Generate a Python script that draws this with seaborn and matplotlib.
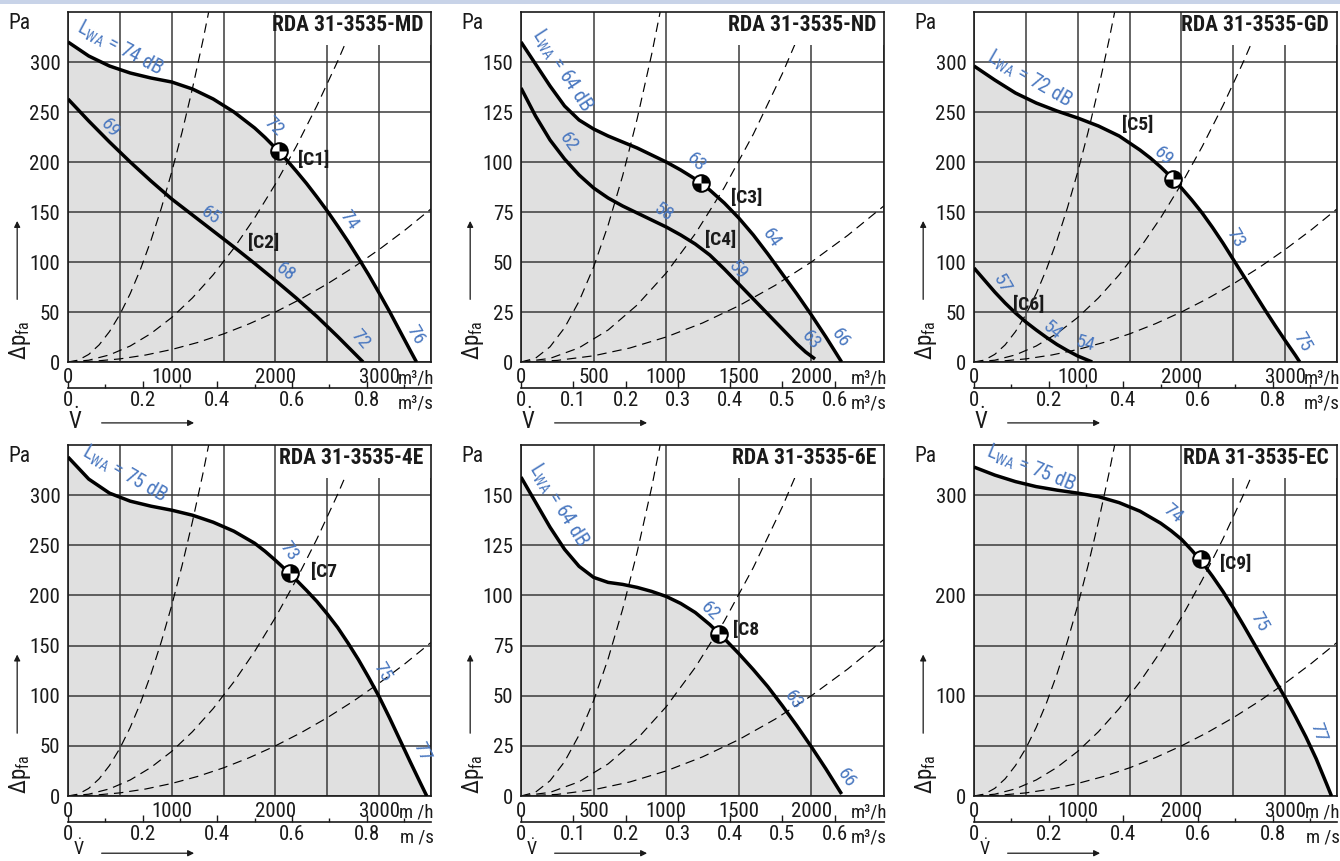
import numpy as np
import matplotlib
matplotlib.use("Agg")
import matplotlib.pyplot as plt
import seaborn as sns
from matplotlib.path import Path
from matplotlib.patches import Rectangle
from matplotlib import font_manager

# system curves (dashed), m3/h -> Pa, shared by all six charts
sys_a_flow = [0, 100, 200, 300, 400, 500, 600, 700, 800, 900, 1000, 1100, 1200, 1300, 1400]
sys_a_pa = [0, 1.9, 7.6, 17.1, 30.4, 47.5, 68.4, 93.1, 121.6, 153.9, 190, 229.9, 273.6, 321.1, 372.4]
sys_b_flow = [0, 200, 400, 600, 800, 1000, 1200, 1400, 1600, 1800, 2000, 2200, 2400, 2600, 2800]
sys_b_pa = [0, 1.8, 7.1, 16.0, 28.5, 44.5, 64.1, 87.2, 113.9, 144.2, 178.0, 215.4, 256.3, 300.8, 348.9]
sys_c_flow = [0, 250, 500, 750, 1000, 1250, 1500, 1750, 2000, 2250, 2500, 2750, 3000, 3250, 3500]
sys_c_pa = [0, 0.8, 3.1, 7.0, 12.5, 19.5, 28.1, 38.3, 50.0, 63.3, 78.1, 94.5, 112.5, 132.0, 153.1]

# RDA 31-3535-MD
md_max_flow = [0, 200, 400, 600, 800, 1000, 1200, 1400, 1600, 1800, 1900, 2000, 2100, 2200, 2300,
               2400, 2500, 2600, 2700, 2800, 2900, 3000, 3100, 3200, 3300, 3360]
md_max_pa = [320, 306, 296, 289, 284, 280, 273, 263, 250, 234, 224.5, 214, 203, 191, 178.5,
             165, 151, 136, 120.5, 104, 87, 69, 50.5, 31, 11.5, 0]
md_low_flow = [0, 200, 400, 600, 800, 1000, 1200, 1400, 1600, 1800, 2000, 2200, 2400, 2600, 2845]
md_low_pa = [263, 241, 220, 200, 181, 163, 147, 131, 115, 98.5, 81.5, 64, 45.5, 25.5, 0]
md_op_flow = [2030]
md_op_pa = [211]
md_lwa = 74
md_db = [72, 74, 76, 69, 65, 68, 72]
md_tags = ["[C1]", "[C2]"]

# RDA 31-3535-ND
nd_max_flow = [0, 100, 200, 300, 400, 500, 600, 700, 800, 900, 1000, 1100, 1200, 1300, 1400,
               1500, 1600, 1700, 1800, 1900, 2000, 2100, 2208]
nd_max_pa = [160, 149, 138, 128, 121, 116.5, 113, 110, 107, 103.5, 100, 96, 91.5, 86, 79.5,
             72, 63.5, 54, 44, 34, 23.5, 12.5, 0]
nd_low_flow = [0, 100, 200, 300, 400, 500, 600, 700, 800, 900, 1000, 1100, 1200, 1300, 1400,
               1500, 1600, 1700, 1800, 1900, 1960, 2025]
nd_low_pa = [137, 123, 111, 101.5, 93.5, 87, 82, 78, 74.5, 71, 67.5, 63.5, 59, 53.5, 46.5,
             39, 31.5, 24, 16.5, 9, 5, 1.5]
nd_op_flow = [1238]
nd_op_pa = [89.6]
nd_lwa = 64
nd_db = [63, 64, 66, 62, 58, 59, 63]
nd_tags = ["[C3]", "[C4]"]

# RDA 31-3535-GD
gd_max_flow = [0, 200, 400, 600, 800, 1000, 1200, 1400, 1600, 1700, 1800, 1900, 2000, 2100, 2200,
               2300, 2400, 2500, 2600, 2700, 2800, 2900, 3000, 3100, 3141]
gd_max_pa = [296, 282, 269, 259, 251, 244, 236, 226, 212, 204, 195, 185, 174, 162, 149,
             134.5, 119, 102.5, 86, 69.5, 53, 37, 21.5, 6.5, 0]
gd_low_flow = [0, 100, 200, 300, 400, 500, 600, 700, 800, 900, 1000, 1140]
gd_low_pa = [94, 82, 70, 59, 49, 40, 32, 24.5, 17.5, 11.5, 6, 0]
gd_op_flow = [1920]
gd_op_pa = [183]
gd_lwa = 72
gd_db = [69, 73, 75, 57, 54, 54]
gd_tags = ["[C5]", "[C6]"]

# RDA 31-3535-4E
e4_max_flow = [0, 200, 400, 600, 800, 1000, 1200, 1400, 1600, 1800, 1900, 2000, 2100, 2200, 2300,
               2400, 2500, 2600, 2700, 2800, 2900, 3000, 3100, 3200, 3300, 3400, 3459]
e4_max_pa = [338, 316, 302, 294, 289, 285, 280, 273, 264, 252, 244, 235, 225.5, 215.5, 205,
             194, 181.5, 168, 152.5, 136, 118, 99, 78, 56, 34, 12.5, 0]
e4_op_flow = [2139]
e4_op_pa = [222]
e4_lwa = 75
e4_db = [73, 75, 77]
e4_tags = ["[C7"]

# RDA 31-3535-6E
e6_max_flow = [0, 100, 200, 300, 400, 500, 600, 700, 800, 900, 1000, 1100, 1200, 1300, 1400,
               1500, 1600, 1700, 1800, 1900, 2000, 2100, 2208]
e6_max_pa = [159, 146.5, 134, 123, 114.5, 109, 106.5, 105.5, 104, 102, 99.5, 96, 91.5, 85.5, 78.5,
             71, 63, 54.5, 45, 35, 24.5, 13.5, 1]
e6_op_flow = [1365]
e6_op_pa = [81]
e6_lwa = 64
e6_db = [62, 63, 66]
e6_tags = ["[C8"]

# RDA 31-3535-EC
ec_max_flow = [0, 200, 400, 600, 800, 1000, 1200, 1400, 1600, 1800, 1900, 2000, 2100, 2200, 2300,
               2400, 2500, 2600, 2700, 2800, 2900, 3000, 3100, 3200, 3300, 3400, 3447]
ec_max_pa = [328, 320, 313.5, 308.5, 305, 302, 298.5, 292.5, 284, 272, 264.5, 256, 245, 233, 219,
             204, 187.5, 170, 152, 134, 116, 98, 79, 59, 37, 12, 0]
ec_op_flow = [2186]
ec_op_pa = [236]
ec_lwa = 75
ec_db = [74, 75, 77]
ec_tags = ["[C9]"]

sns.set_theme(style="white")
names = {f.name for f in font_manager.fontManager.ttflist}
base = next((f for f in ["Liberation Sans Narrow", "Roboto Condensed", "Liberation Sans"] if f in names), "DejaVu Sans")
plt.rcParams["font.family"] = [base, "DejaVu Sans"]
plt.rcParams["mathtext.default"] = "regular"

BLUE = "#4a78c0"
INK = "#1a1a1a"
FS = 15

wide = dict(xmax=3500, ymax=350, ystep=50, xlab=1000,
            sec_major=[0, 0.2, 0.4, 0.6, 0.8], sec_minor=[0.1, 0.3, 0.5, 0.7, 0.9])
narrow = dict(xmax=2500, ymax=175, ystep=25, xlab=500,
              sec_major=[0, 0.1, 0.2, 0.3, 0.4, 0.5, 0.6], sec_minor=[])

panels = [
    dict(wide, title="RDA 31-3535-MD", units=("m³/h", "m³/s"),
         curves=[(md_max_flow, md_max_pa), (md_low_flow, md_low_pa)], op=(md_op_flow, md_op_pa),
         lwa=(md_lwa, 500, 314, -28),
         db=list(zip(md_db, [(1980, 236, -45), (2703, 142, -55), (3349, 27, -60), (405, 234, -50),
                             (1374, 147, -35), (2095, 90, -38), (2813, 23, -50)])),
         tags=list(zip(md_tags, [(2370, 202), (1889, 119)]))),
    dict(narrow, title="RDA 31-3535-ND", units=("m³/h", "m³/s"),
         curves=[(nd_max_flow, nd_max_pa), (nd_low_flow, nd_low_pa)], op=(nd_op_flow, nd_op_pa),
         lwa=(nd_lwa, 285, 146, -57),
         db=list(zip(nd_db, [(1204, 100, -45), (1722, 62, -55), (2197, 12, -55), (323, 110, -55),
                             (978, 75, -35), (1495, 46, -50), (1994, 11, -50)])),
         tags=list(zip(nd_tags, [(1552, 82), (1372, 61)]))),
    dict(wide, title="RDA 31-3535-GD", units=("m³/h", "m³/s"),
         curves=[(gd_max_flow, gd_max_pa), (gd_low_flow, gd_low_pa)], op=(gd_op_flow, gd_op_pa),
         lwa=(gd_lwa, 535, 283, -30),
         db=list(zip(gd_db, [(1822, 206, -45), (2516, 124, -60), (3170, 20, -60), (272, 78, -60),
                             (753, 32, -40), (1073, 18, -15)])),
         tags=list(zip(gd_tags, [(1583, 237), (523, 57)]))),
    dict(wide, title="RDA 31-3535-4E", units=("m /h", "m /s"),
         curves=[(e4_max_flow, e4_max_pa)], op=(e4_op_flow, e4_op_pa),
         lwa=(e4_lwa, 545, 321, -30),
         db=list(zip(e4_db, [(2133, 244, -55), (3028, 124, -60), (3412, 44, -65)])),
         tags=list(zip(e4_tags, [(2465, 223)]))),
    dict(narrow, title="RDA 31-3535-6E", units=("m³/h", "m³/s"),
         curves=[(e6_max_flow, e6_max_pa)], op=(e6_op_flow, e6_op_pa),
         lwa=(e6_lwa, 258, 145, -58),
         db=list(zip(e6_db, [(1305, 92, -45), (1873, 48, -55), (2242, 9, -55)])),
         tags=list(zip(e6_tags, [(1552, 83)]))),
    dict(wide, title="RDA 31-3535-EC", units=("m /h", "m /s"), ylab=100,
         curves=[(ec_max_flow, ec_max_pa)], op=(ec_op_flow, ec_op_pa),
         lwa=(ec_lwa, 550, 327, -22),
         db=list(zip(ec_db, [(1917, 282, -40), (2747, 174, -60), (3320, 63, -70)])),
         tags=list(zip(ec_tags, [(2525, 231)]))),
]

W, H = 1340, 861
boxes = [(68, 12, 362), (521, 12, 362), (974, 12, 362), (68, 445, 796), (521, 445, 796), (974, 445, 796)]


def op_marker(ax, x, y):
    ax.plot(x, y, marker="o", ms=12, mfc="white", mec="black", mew=1.4, ls="none", zorder=7)
    for a, b in [(0, 90), (180, 270)]:
        ax.plot(x, y, marker=Path.wedge(a, b), ms=12, mfc="black", mec="none", ls="none", zorder=8)


def draw_panel(ax, p, row):
    xmax, ymax = p["xmax"], p["ymax"]
    ax.set_axisbelow(True)
    # grey field below the full-speed curve
    ax.fill_between(p["curves"][0][0], p["curves"][0][1], color="#e0e0e0", lw=0, zorder=0.2)
    for fx, fy in [(sys_a_flow, sys_a_pa), (sys_b_flow, sys_b_pa), (sys_c_flow, sys_c_pa)]:
        sns.lineplot(x=fx, y=fy, ax=ax, color="black", lw=0.85, linestyle=(0, (8, 5)),
                     sort=False, estimator=None, zorder=2)
    ax.add_patch(Rectangle((0.58, 0.907), 0.42, 0.093, transform=ax.transAxes,
                           fc="white", ec="none", zorder=2.5))
    for fx, fy in p["curves"]:
        sns.lineplot(x=fx, y=fy, ax=ax, color="black", lw=2.5, sort=False, estimator=None,
                     zorder=4, solid_capstyle="butt", solid_joinstyle="round")
    op_marker(ax, p["op"][0], p["op"][1])

    ax.set_xlim(0, xmax)
    ax.set_ylim(0, ymax)
    xt = np.arange(0, xmax + 1, 500)
    ax.set_xticks(xt)
    ax.set_xticklabels([str(v) if v % p["xlab"] == 0 and v < xmax else "" for v in xt])
    yt = np.arange(0, ymax - p["ystep"] + 1, p["ystep"])
    ylab = p.get("ylab", p["ystep"])
    ax.set_yticks(yt)
    ax.set_yticklabels([str(v) if v % ylab == 0 else "" for v in yt])
    ax.grid(True, color="#3a3a3a", lw=1.1)
    ax.tick_params(axis="both", labelsize=FS, length=4, width=1, color=INK,
                   labelcolor=INK, direction="out", pad=1.5)
    ax.tick_params(axis="x", pad=0.5)
    for s in ax.spines.values():
        s.set_color(INK)
        s.set_linewidth(1.2)
        s.set_zorder(3)
    ax.set_xlabel("")
    ax.set_ylabel("")

    sec = ax.secondary_xaxis(-0.074, functions=(lambda q: q / 3600.0, lambda s: s * 3600.0))
    sec.set_xticks(p["sec_major"])
    sec.set_xticklabels([("%g" % v) for v in p["sec_major"]])
    if p["sec_minor"]:
        sec.set_xticks(p["sec_minor"], minor=True)
    sec.tick_params(which="major", direction="in", length=5, width=1, labelsize=FS,
                    color=INK, labelcolor=INK, pad=2)
    sec.tick_params(which="minor", direction="in", length=3, width=1, color=INK)
    sec.spines["bottom"].set_color(INK)
    sec.spines["bottom"].set_linewidth(1.2)

    ax.text(1.008, -0.048, p["units"][0], transform=ax.transAxes, ha="right", va="center",
            fontsize=13.5, color=INK, clip_on=False)
    ax.text(1.008, -0.118, p["units"][1], transform=ax.transAxes, ha="right", va="center",
            fontsize=13.5, color=INK, clip_on=False)

    # axis names and arrows
    ax.text(-0.165, 0.997, "Pa", transform=ax.transAxes, ha="left", va="top",
            fontsize=FS + 0.5, color=INK)
    ax.text(-0.133, 0.005, r"$\Delta p_{fa}$", transform=ax.transAxes, rotation=90,
            ha="center", va="bottom", fontsize=FS + 1.5, color=INK)
    ax.annotate("", xy=(-0.14, 0.411), xytext=(-0.14, 0.171), xycoords="axes fraction",
                arrowprops=dict(arrowstyle="-|>", color=INK, lw=0.9, mutation_scale=9),
                annotation_clip=False)
    if row == 0:
        ax.text(0.02, -0.168, r"$\dot{V}$", transform=ax.transAxes, ha="center", va="center",
                fontsize=FS + 1.5, color=INK)
        ay = -0.174
    else:
        # last row sits on the figure edge: keep the symbol just inside it
        ax.text(0.03, -0.1795, r"$\dot{V}$", transform=ax.transAxes, ha="center", va="bottom",
                fontsize=13, color=INK)
        ay = -0.163
    ax.annotate("", xy=(0.355, ay), xytext=(0.085, ay), xycoords="axes fraction",
                arrowprops=dict(arrowstyle="-|>", color=INK, lw=0.9, mutation_scale=9),
                annotation_clip=False)

    ax.text(0.978, 0.963, p["title"], transform=ax.transAxes, ha="right", va="center",
            fontsize=15.5, fontweight="bold", color=INK, zorder=6)

    lv, lx, ly, lr = p["lwa"]
    ax.text(lx, ly, r"$L_{WA}$ = %d dB" % lv, color=BLUE, fontsize=14.5, rotation=lr,
            rotation_mode="anchor", ha="center", va="center", zorder=6)
    for val, (tx, ty, tr) in p["db"]:
        ax.text(tx, ty, str(val), color=BLUE, fontsize=14, rotation=tr,
                rotation_mode="anchor", ha="center", va="center", zorder=6)
    for tag, (tx, ty) in p["tags"]:
        ax.text(tx, ty, tag, color=INK, fontsize=14, fontweight="bold",
                ha="center", va="center", zorder=6)


fig = plt.figure(figsize=(W / 100, H / 100), dpi=100)
fig.add_artist(Rectangle((0, 1 - 4 / H), 1, 4 / H, transform=fig.transFigure,
                         color="#c8d3e8", lw=0))
for i, (p, (left, top, bottom)) in enumerate(zip(panels, boxes)):
    ax = fig.add_axes([left / W, (H - bottom) / H, 363 / W, (bottom - top) / H])
    draw_panel(ax, p, i // 3)

fig.savefig("out.png", dpi=100)
